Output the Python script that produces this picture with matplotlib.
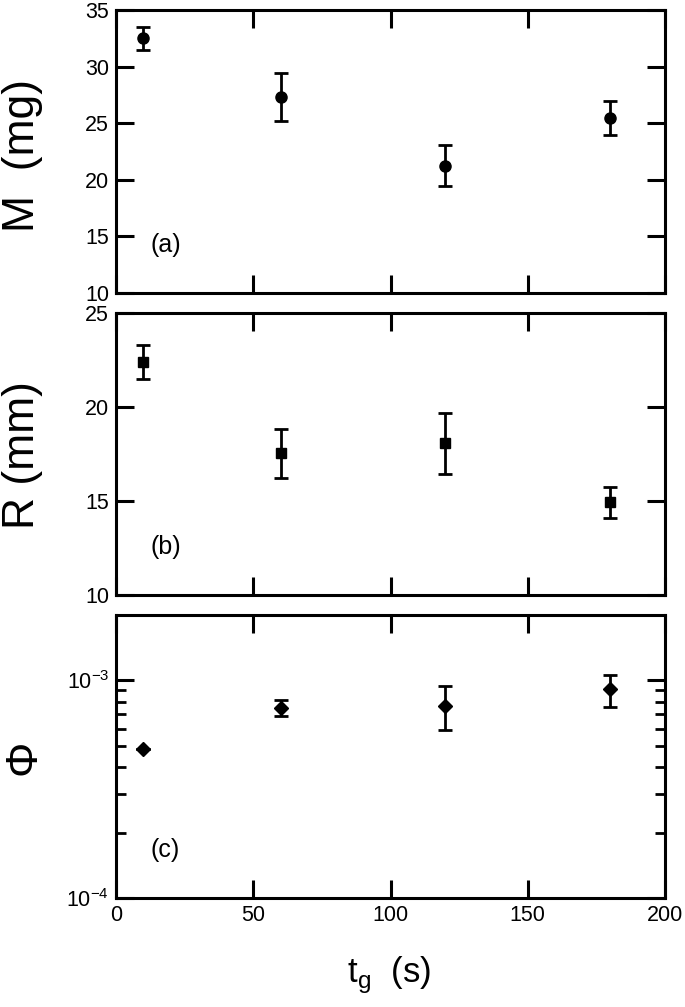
import matplotlib
matplotlib.use("Agg")
import matplotlib.pyplot as plt
from matplotlib.ticker import LogLocator, NullFormatter, FixedLocator

plt.rcParams['font.family'] = ['Liberation Sans', 'DejaVu Sans']
plt.rcParams['mathtext.fontset'] = 'custom'
plt.rcParams['mathtext.rm'] = 'Liberation Sans'

# Data
tg = [10, 60, 120, 180]
M_vals = [32.5, 27.3, 21.25, 25.45]
M_err = [1.0, 2.1, 1.8, 1.5]
R_vals = [22.4, 17.53, 18.06, 14.93]
R_err = [0.9, 1.3, 1.6, 0.82]
phi_vals = [4.86e-4, 7.48e-4, 7.67e-4, 9.09e-4]
phi_err_lo = [0.0, 0.58e-4, 1.77e-4, 1.56e-4]
phi_err_hi = [0.0, 0.63e-4, 1.74e-4, 1.48e-4]

x_ticks = [0, 50, 100, 150, 200]
M_ticks = [10, 15, 20, 25, 30, 35]
R_ticks = [10, 15, 20, 25]
panel_labels = ['(a)', '(b)', '(c)']

fig = plt.figure(figsize=(6.85, 10.07), dpi=100)
left = 116 / 685
width = 549 / 685
axA = fig.add_axes([left, 1 - 293 / 1007, width, 283 / 1007])
axB = fig.add_axes([left, 1 - 595 / 1007, width, 282 / 1007])
axC = fig.add_axes([left, 1 - 898 / 1007, width, 283 / 1007])

eb_kw = dict(linestyle='none', color='black', ecolor='black', elinewidth=2.0,
             capsize=5, capthick=2.0)

axA.errorbar(tg, M_vals, yerr=M_err, marker='o', ms=8, **eb_kw)
axB.errorbar(tg, R_vals, yerr=R_err, marker='s', ms=7.5, **eb_kw)
axC.errorbar(tg, phi_vals, yerr=[phi_err_lo, phi_err_hi], marker='D', ms=7.5, **eb_kw)

for ax in (axA, axB, axC):
    ax.set_xlim(0, 200)
    ax.xaxis.set_major_locator(FixedLocator(x_ticks))
    for s in ax.spines.values():
        s.set_linewidth(2.2)
    ax.tick_params(axis='both', which='major', direction='in', length=13, width=2.2,
                   top=True, right=True, labelsize=15.5, pad=5)
    ax.tick_params(axis='both', which='minor', direction='in', length=7, width=2.0,
                   top=True, right=True)

axA.set_ylim(10, 35)
axA.set_yticks(M_ticks)
axA.tick_params(labelbottom=False)
axB.set_ylim(10, 25)
axB.set_yticks(R_ticks)
axB.tick_params(labelbottom=False)

axC.set_yscale('log')
axC.set_ylim(1e-4, 2e-3)
axC.yaxis.set_major_locator(FixedLocator([1e-4, 1e-3]))
axC.set_yticklabels([r'$\mathregular{10^{-4}}$', r'$\mathregular{10^{-3}}$'])
axC.yaxis.set_minor_locator(LogLocator(base=10, subs=[2, 3, 4, 5, 6, 7, 8, 9], numticks=20))
axC.yaxis.set_minor_formatter(NullFormatter())
axC.set_xticklabels([str(v) for v in x_ticks])

for ax, lab in zip((axA, axB, axC), panel_labels):
    ax.text(0.062, 0.17, lab, transform=ax.transAxes, fontsize=18,
            ha='left', va='center')

fig.text(0.033, 1 - 155 / 1007, 'M  (mg)', rotation=90, fontsize=32,
         ha='center', va='center')
fig.text(0.033, 1 - 455 / 1007, 'R (mm)', rotation=90, fontsize=32,
         ha='center', va='center')
fig.text(0.035, 1 - 757 / 1007, 'Φ', rotation=90, fontsize=32,
         ha='center', va='center')
fig.text(389 / 685, 1 - 975 / 1007, r't$_\mathregular{g}$  (s)', fontsize=25,
         ha='center', va='center')

fig.savefig('out.png', dpi=100)
